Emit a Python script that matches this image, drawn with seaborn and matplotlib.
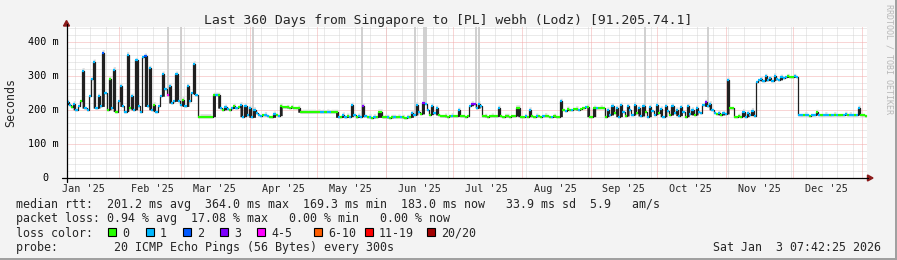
import datetime as dt
import numpy as np
import pandas as pd
import matplotlib
matplotlib.use("Agg")
import matplotlib.pyplot as plt
from matplotlib.lines import Line2D
from matplotlib.patches import Rectangle, Polygon
import seaborn as sns

# ---------------- data (one value per day, 360 days) ----------------
start = dt.datetime(2025, 1, 8, 7, 42, 25)
end = dt.datetime(2026, 1, 3, 7, 42, 25)

median_ms = [
    # Jan 8 - Mar 7 (spiky)
    222, 215, 208, 218, 200, 212, 225, 315, 205, 200,
    240, 290, 340, 205, 240, 210, 368, 250, 200, 290,
    205, 318, 195, 225, 270, 210, 195, 362, 205, 240,
    200, 345, 210, 195, 355, 358, 210, 322, 200, 215,
    195, 210, 240, 305, 260, 245, 270, 220, 225, 305,
    225, 215, 230, 210, 270, 225, 250, 335, 245,
    180, 180, 180, 180, 180, 180, 180,
    243, 243, 243,
    205, 200, 208, 203, 200, 204, 210, 205, 207,
    215, 180, 212, 185, 205, 178, 200, 190, 185,
    182, 185, 186, 183, 180, 178, 188, 185, 183,
    211, 208, 207, 207, 206, 207, 206, 205, 205,
    193, 193, 193, 193, 193, 193, 193, 193, 194, 193, 193, 193, 194, 193, 193, 193, 193,
    178, 180, 185, 178, 182, 180, 214, 185, 178, 182, 180, 212, 183, 178, 180, 177, 180, 178,
    194, 194,
    178, 178, 178, 177, 178, 178, 178, 179, 178, 178, 177, 178, 178,
    190, 185, 215, 195, 188, 220, 218, 200, 186, 212, 190, 205, 185, 183,
    181, 182, 180, 181, 183, 182, 181, 199, 182, 181, 180, 181,
    212, 218, 216, 205, 218, 210,
    181, 181, 180, 181, 182, 181, 181, 205, 181, 180, 181, 181, 180, 181, 182,
    206, 206,
    180, 180, 181, 180, 200, 181, 180, 182, 181, 180, 181, 183, 181, 180, 179, 181, 180, 180,
    225,
    200, 198, 202, 200, 199, 201, 203, 200, 202, 205, 207, 209,
    180, 180,
    205, 204, 205, 206, 205,
    180,
    200, 185, 212, 190, 205, 180, 214, 195, 182, 210, 200, 185, 215, 190, 205, 182,
    212, 195, 180, 208, 198, 186, 214, 192, 203, 180, 210, 196, 185, 212, 190, 200,
    183, 207, 195, 180, 210, 188, 200, 185, 205, 195, 190, 215, 222, 210, 218, 200,
    192, 188, 190, 185, 190, 188,
    287,
    205, 204,
    180, 180, 181, 180,
    195, 180, 192, 185, 198, 183,
    282,
    288, 290, 285, 298, 287, 292, 286, 300, 290, 288, 296, 293, 295, 298, 297, 296, 298, 297,
    185, 184, 185, 186, 185, 183, 184, 186, 193, 185, 184, 185, 186, 185, 184, 185,
    186, 185, 184, 185, 186, 187, 185, 186, 185, 184, 185, 205, 186, 185, 183,
]

loss_count = [
    1, 1, 0, 1, 1, 1, 0, 1, 1, 1,
    1, 1, 1, 1, 1, 1, 2, 1, 0, 0,
    1, 1, 0, 1, 1, 1, 1, 1, 0, 1,
    1, 1, 1, 1, 1, 2, 1, 1, 1, 0,
    1, 1, 1, 1, 1, 4, 1, 1, 1, 1,
    1, 1, 0, 1, 1, 1, 1, 1, 1,
    0, 0, 0, 0, 0, 0, 0,
    0, 1, 0,
    1, 0, 1, 1, 0, 1, 0, 1, 0,
    1, 1, 1, 1, 1, 1, 1, 1, 1,
    1, 0, 1, 1, 0, 0, 1, 0, 1,
    0, 0, 0, 0, 0, 0, 0, 0, 0,
    0, 0, 0, 0, 0, 0, 0, 0, 0, 1, 1, 0, 1, 1, 0, 0, 0,
    1, 0, 1, 1, 0, 1, 1, 1, 0, 1, 1, 3, 1, 0, 1, 0, 1, 0,
    0, 0,
    0, 0, 1, 0, 0, 1, 0, 0, 1, 0, 0, 1, 0,
    1, 1, 1, 1, 0, 3, 1, 1, 0, 1, 1, 1, 0, 0,
    0, 0, 0, 0, 1, 0, 0, 1, 0, 0, 0, 0,
    1, 3, 3, 1, 1, 1,
    0, 0, 0, 0, 0, 0, 0, 1, 0, 0, 0, 0, 0, 0, 0,
    0, 0,
    0, 0, 1, 0, 1, 0, 0, 1, 0, 0, 1, 0, 0, 0, 1, 0, 0, 0,
    1,
    0, 1, 0, 0, 1, 0, 0, 1, 0, 0, 1, 0,
    0, 0,
    0, 1, 0, 0, 0,
    0,
    1, 1, 1, 0, 1, 1, 1, 1, 0, 1, 1, 1, 1, 0, 1, 1,
    1, 0, 1, 1, 1, 1, 1, 0, 1, 1, 1, 1, 0, 1, 1, 1,
    1, 1, 1, 0, 1, 1, 1, 0, 1, 1, 1, 1, 3, 1, 1, 1,
    1, 0, 1, 0, 1, 1,
    1,
    0, 0,
    0, 0, 0, 0,
    1, 1, 1, 1, 1, 1,
    1,
    1, 1, 1, 1, 1, 1, 1, 1, 1, 1, 1, 1, 1, 0, 0, 0, 1, 1,
    1, 1, 0, 1, 1, 0, 1, 1, 0, 1, 0, 1, 1, 1, 0, 1,
    0, 1, 0, 0, 1, 1, 0, 1, 1, 0, 1, 1, 0, 0, 0,
]

outlier_day = [45.7, 51.5, 83.9, 132.9, 156.9, 160.6, 161.6, 184.0, 185.3, 260.3, 288.7]
outlier_top = [445, 445, 445, 445, 445, 445, 445, 445, 445, 445, 445]

loss_labels = ["0", "1", "2", "3", "4-5", "6-10", "11-19", "20/20"]
loss_colors = ["#26ff00", "#00b8ff", "#0059ff", "#7e00ff", "#ff00ff", "#ff5e00", "#ff0000", "#a10000"]

y_ticks = [0, 100, 200, 300, 400]
y_tick_labels = ["0", "100 m", "200 m", "300 m", "400 m"]

title = "Last 360 Days from Singapore to [PL] webh (Lodz) [91.205.74.1]"
legend_lines = [
    "median rtt:  201.2 ms avg  364.0 ms max  169.3 ms min  183.0 ms now   33.9 ms sd  5.9   am/s",
    "packet loss: 0.94 % avg  17.08 % max   0.00 % min   0.00 % now",
]
probe_text = "probe:        20 ICMP Echo Pings (56 Bytes) every 300s"
stamp_text = "Sat Jan  3 07:42:25 2026"

# ---------------- figure ----------------
sns.set_theme(style="white")
plt.rcParams['font.family'] = ['DejaVu Sans Mono', 'DejaVu Sans']

W, H = 897, 260
fig = plt.figure(figsize=(W / 100, H / 100), dpi=100, facecolor="#f3f3f3")

def fx(x):
    return x / W

def fy(y):
    return 1 - y / H

X0, X1, Y0, Y1 = 66.5, 867.0, 178.0, 27.0
ax = fig.add_axes([fx(X0), fy(Y0), fx(X1) - fx(X0), fy(Y1) - fy(Y0)])
ax.set_facecolor("white")
YMAX = (Y0 - Y1) / 0.3408
for s in ax.spines.values():
    s.set_visible(False)

def dday(d):
    return (d - start).total_seconds() / 86400.0

# grid (1px dotted)
dot = (0, (1, 1))
gkw = dict(lw=0.72, ls=dot)
for v in range(20, int(YMAX) + 1, 20):
    if v % 100:
        ax.axhline(v, color="#d6d6d6", zorder=0, **gkw)
d = dt.datetime(2025, 1, 12)
while d < end:
    ax.axvline(dday(d), color="#d6d6d6", zorder=0, **gkw)
    d += dt.timedelta(days=7)
for v in y_ticks[1:]:
    ax.axhline(v, color="#f3adad", zorder=0.5, **gkw)
month_starts = [dt.datetime(2025, m, 1) for m in range(2, 13)] + [dt.datetime(2026, 1, 1)]
for m in month_starts:
    ax.axvline(dday(m), color="#f3adad", zorder=0.5, **gkw)

# data
n = len(median_ms)
days = np.arange(n)
med = np.array(median_ms, dtype=float)
loss = np.array(loss_count)
xs = np.r_[days, n]

prev = np.r_[med[0], med[:-1]]
nxt = np.r_[med[1:], med[-1]]
# smoke halo and outlier pings
spike = med >= np.maximum(prev, nxt)
smoke_hi = np.where(spike, med + 9, med + 2)
smoke_lo = med - 2
ax.fill_between(xs, np.r_[smoke_lo, smoke_lo[-1]], np.r_[smoke_hi, smoke_hi[-1]],
                step="post", color="#dedede", lw=0, zorder=1)
ax.vlines(outlier_day, [med[int(d)] for d in outlier_day], outlier_top,
          color="#cdcdcd", lw=1.3, zorder=1.2)

# spikes drawn as solid dark columns
base = np.where(spike, np.minimum(prev, nxt), med)
ax.fill_between(xs, np.r_[base, base[-1]], np.r_[med, med[-1]], step="post",
                color="#202020", lw=0, zorder=1.8)

df = pd.DataFrame({"day": xs, "median": np.r_[med, med[-1]]})
sns.lineplot(data=df, x="day", y="median", drawstyle="steps-post", color="#202020",
             lw=0.9, ax=ax, estimator=None, legend=False, zorder=2)
ax.set_xlabel("")
ax.set_ylabel("")
ax.set_xticks([])
ax.set_yticks([])
ax.set_xlim(0, 360)
ax.set_ylim(0, YMAX)

cls_map = {0: 0, 1: 1, 2: 2, 3: 3, 4: 4, 5: 4}
for k, col in enumerate(loss_colors):
    sel = np.array([cls_map.get(int(c), 5) == k for c in loss])
    if sel.any():
        ax.hlines(med[sel], days[sel], days[sel] + 1, color=col, lw=1.6, zorder=3)

# axes lines and arrows
axis_col = "#000000"
fig.add_artist(Line2D([fx(62), fx(868)], [fy(Y0), fy(Y0)], color=axis_col, lw=0.9))
fig.add_artist(Line2D([fx(X0), fx(X0)], [fy(182), fy(24)], color=axis_col, lw=0.9))
arr = "#8b1a1a"
fig.add_artist(Polygon([[fx(X0 - 3), fy(26)], [fx(X0 + 3), fy(26)], [fx(X0), fy(20.5)]],
                       closed=True, color=arr, transform=fig.transFigure))
fig.add_artist(Polygon([[fx(867.5), fy(Y0 - 3)], [fx(867.5), fy(Y0 + 3)], [fx(873), fy(Y0)]],
                       closed=True, color=arr, transform=fig.transFigure))

# y tick labels
for v, lab in zip(y_ticks, y_tick_labels):
    ypx = Y0 - v * 0.3408
    xr = 59 if lab != "0" else 48
    fig.text(fx(xr), fy(ypx + 3.4), lab, ha="right", va="baseline", fontsize=7.3, color="#000000")

# month labels
for mth in range(1, 13):
    c = dt.datetime(2025, mth, 16)
    xpx = X0 + dday(c) * (X1 - X0) / 360
    if xpx > X1:
        continue
    fig.text(fx(xpx), fy(191.5), c.strftime("%b '%y"), ha="center", va="baseline", fontsize=7.3)

# title & labels
fig.text(fx(448.5), fy(24.3), title, ha="center", va="baseline", fontsize=9.45)
fig.text(fx(11), fy(102.5), "Seconds", rotation=90, ha="center", va="center", fontsize=8.4)
fig.text(fx(889), fy(4), "RRDTOOL / TOBI OETIKER", rotation=270, ha="center", va="top",
         fontsize=6, color="#b8b8b8")

# legend
fig.text(fx(16), fy(208.2), legend_lines[0], ha="left", va="baseline", fontsize=8.37)
fig.text(fx(16), fy(222.4), legend_lines[1], ha="left", va="baseline", fontsize=8.37)
fig.text(fx(16), fy(236.6), "loss color:", ha="left", va="baseline", fontsize=8.37)
box_x = [108, 145.5, 182.5, 219.8, 256.8, 313.5, 364.5, 427]
for bx, lab, col in zip(box_x, loss_labels, loss_colors):
    fig.add_artist(Rectangle((fx(bx), fy(236)), 8 / W, 8 / H, facecolor=col, edgecolor="black",
                             lw=0.8, transform=fig.transFigure))
    fig.text(fx(bx + 14.5), fy(236.6), lab, ha="left", va="baseline", fontsize=8.37)
fig.text(fx(16), fy(250.8), probe_text, ha="left", va="baseline", fontsize=8.37)
fig.text(fx(880.5), fy(250.8), stamp_text, ha="right", va="baseline", fontsize=8.37)

# frame
fig.add_artist(Rectangle((fx(895), 0), 2 / W, 1, color="#a0a0a0", transform=fig.transFigure, lw=0))
fig.add_artist(Rectangle((0, 0), 1, 2 / H, color="#a0a0a0", transform=fig.transFigure, lw=0))

fig.savefig("out.png", dpi=100, facecolor=fig.get_facecolor())
